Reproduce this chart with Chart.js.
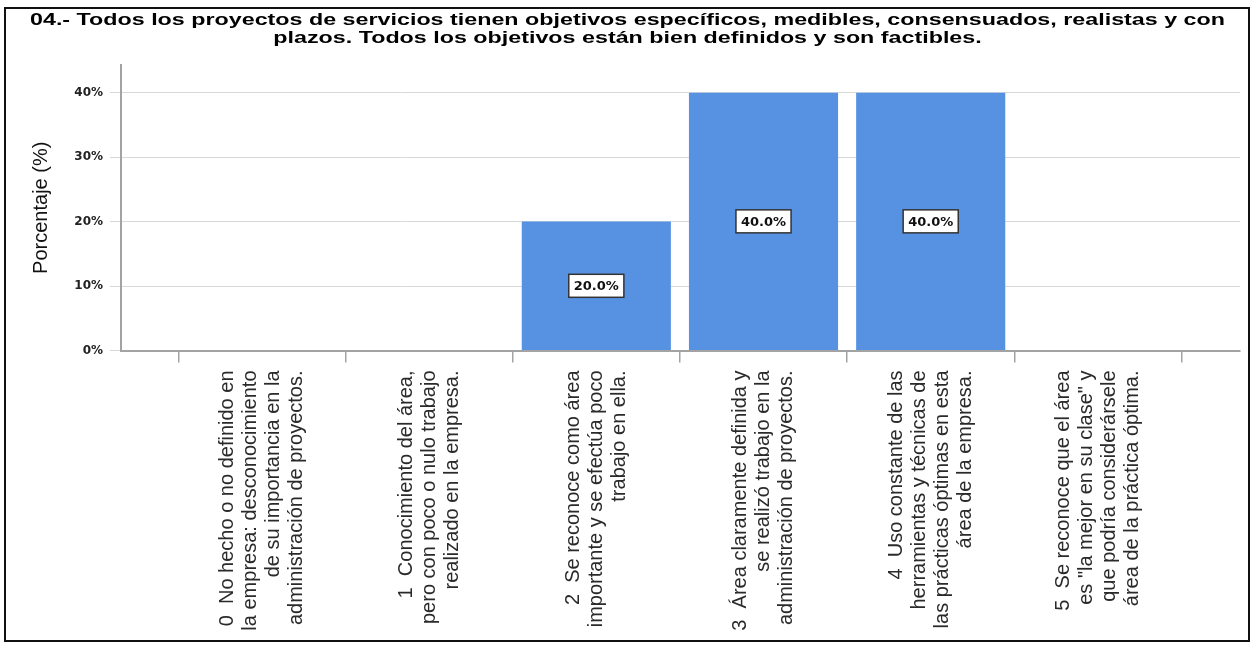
<!DOCTYPE html>
<html lang="es">
<head>
<meta charset="utf-8">
<title>Porcentaje por nivel</title>
<script src="https://cdn.jsdelivr.net/npm/chart.js@4.4.1/dist/chart.umd.min.js"></script>
<style>
  html, body { margin: 0; padding: 0; background: #fff; }
  #wrap { position: relative; width: 1255px; height: 645px; }
  #frame {
    position: absolute; left: 4px; top: 7px; width: 1246px; height: 635px;
    box-sizing: border-box; border: 2px solid #111; pointer-events: none;
  }
</style>
</head>
<body>
<div id="wrap">
  <canvas id="grafico"></canvas>
  <div id="frame"></div>
</div>
<script>
const titleLines = [
  "04.- Todos los proyectos de servicios tienen objetivos específicos, medibles, consensuados, realistas y con",
  "plazos. Todos los objetivos están bien definidos y son factibles."
];

// one entry per answer level, each split into its printed lines
const categories = [
  ["0  No hecho o no definido en", "la empresa: desconocimiento", "de su importancia en la", "administración de proyectos."],
  ["1  Conocimiento del área,", "pero con poco o nulo trabajo", "realizado en la empresa."],
  ["2  Se reconoce como área", "importante y se efectúa poco", "trabajo en ella."],
  ["3  Área claramente definida y", "se realizó trabajo en la", "administración de proyectos."],
  ["4  Uso constante de las", "herramientas y técnicas de", "las prácticas óptimas en esta", "área de la empresa."],
  ["5  Se reconoce que el área", "es \"la mejor en su clase\" y", "que podría considerársele", "área de la práctica óptima."]
];

const values = [0, 0, 20, 40, 40, 0];
const yTicks = [0, 10, 20, 30, 40];

const BLUE = "#5792e2";
const AXIS = "#a3a3a3";

// wide bold heading, two centred lines
const heading = {
  id: "heading",
  afterDraw(chart) {
    const ctx = chart.ctx;
    const cx = chart.width / 2;
    ctx.save();
    ctx.font = "bold 17px 'Liberation Sans'";
    ctx.fillStyle = "#000";
    ctx.textAlign = "center";
    ctx.textBaseline = "middle";
    const sx = 1195 / ctx.measureText(titleLines[0]).width;
    titleLines.forEach((line, i) => {
      ctx.save();
      ctx.translate(cx, 20 + i * 18);
      ctx.scale(sx, 1);
      ctx.fillText(line, 0, 0);
      ctx.restore();
    });
    ctx.restore();
  }
};

// value boxes in the middle of each bar
const barLabels = {
  id: "barLabels",
  afterDatasetsDraw(chart) {
    const ctx = chart.ctx;
    const meta = chart.getDatasetMeta(0);
    ctx.save();
    ctx.font = "bold 13px 'DejaVu Sans'";
    ctx.textAlign = "center";
    ctx.textBaseline = "middle";
    meta.data.forEach((bar, i) => {
      const v = values[i];
      if (!v) return;
      const text = v.toFixed(1) + "%";
      const cx = bar.x;
      const cy = (bar.y + bar.base) / 2;
      const w = ctx.measureText(text).width + 10;
      const h = 23;
      ctx.fillStyle = "#fff";
      ctx.fillRect(cx - w / 2, cy - h / 2, w, h);
      ctx.strokeStyle = "#333";
      ctx.lineWidth = 1.5;
      ctx.strokeRect(cx - w / 2, cy - h / 2, w, h);
      ctx.fillStyle = "#111";
      ctx.fillText(text, cx, cy + 1);
    });
    ctx.restore();
  }
};

// vertical category labels, centred on each tick
const categoryLabels = {
  id: "categoryLabels",
  afterDraw(chart) {
    const ctx = chart.ctx;
    const xs = chart.scales.x;
    const lh = 23;
    const top = xs.top + 12 + 8;
    ctx.save();
    ctx.font = "20px 'Liberation Sans'";
    ctx.fillStyle = "#2a2a2a";
    ctx.textAlign = "right";
    ctx.textBaseline = "middle";
    categories.forEach((lines, i) => {
      const px = xs.getPixelForValue(i);
      ctx.save();
      ctx.translate(px, top);
      ctx.rotate(-Math.PI / 2);
      lines.forEach((line, j) => {
        ctx.fillText(line, 0, (j - (lines.length - 1) / 2) * lh);
      });
      ctx.restore();
    });
    ctx.restore();
  }
};

new Chart(document.getElementById("grafico"), {
  type: "bar",
  data: {
    datasets: [{
      data: values.map((v, i) => ({ x: i, y: v })),
      backgroundColor: BLUE,
      borderWidth: 0,
      barPercentage: 0.892,
      categoryPercentage: 1
    }]
  },
  options: {
    responsive: true,
    maintainAspectRatio: false,
    animation: false,
    layout: { padding: { left: 0, right: 15, top: 65, bottom: 0 } },
    plugins: {
      legend: { display: false },
      tooltip: { enabled: false },
      title: { display: false }
    },
    scales: {
      x: {
        type: "linear",
        min: -0.843,
        max: 5.85,
        offset: false,
        afterBuildTicks: (scale) => {
          scale.ticks = categories.map((c, i) => ({ value: i }));
        },
        afterFit: (scale) => { scale.height = 294.5; },
        ticks: { display: false },
        grid: { drawOnChartArea: false, drawTicks: true, tickLength: 12, color: AXIS, lineWidth: 1.5 },
        border: { display: true, color: AXIS, width: 2 }
      },
      y: {
        min: 0,
        max: 44.3,
        afterBuildTicks: (scale) => {
          scale.ticks = yTicks.map((v) => ({ value: v }));
        },
        afterFit: (scale) => { scale.width = 121; },
        ticks: {
          callback: (v) => v + "%",
          color: "#222",
          padding: 7,
          font: { family: "'DejaVu Sans'", weight: "bold", size: 12 }
        },
        grid: { color: "#d8d8d8", lineWidth: 1, tickLength: 11, drawTicks: true },
        border: { color: AXIS, width: 2 },
        title: {
          display: true,
          text: "Porcentaje (%)",
          color: "#111",
          font: { family: "'Liberation Sans'", size: 20 },
          padding: { top: 29, bottom: 0 }
        }
      }
    }
  },
  plugins: [heading, barLabels, categoryLabels]
});
</script>
</body>
</html>
